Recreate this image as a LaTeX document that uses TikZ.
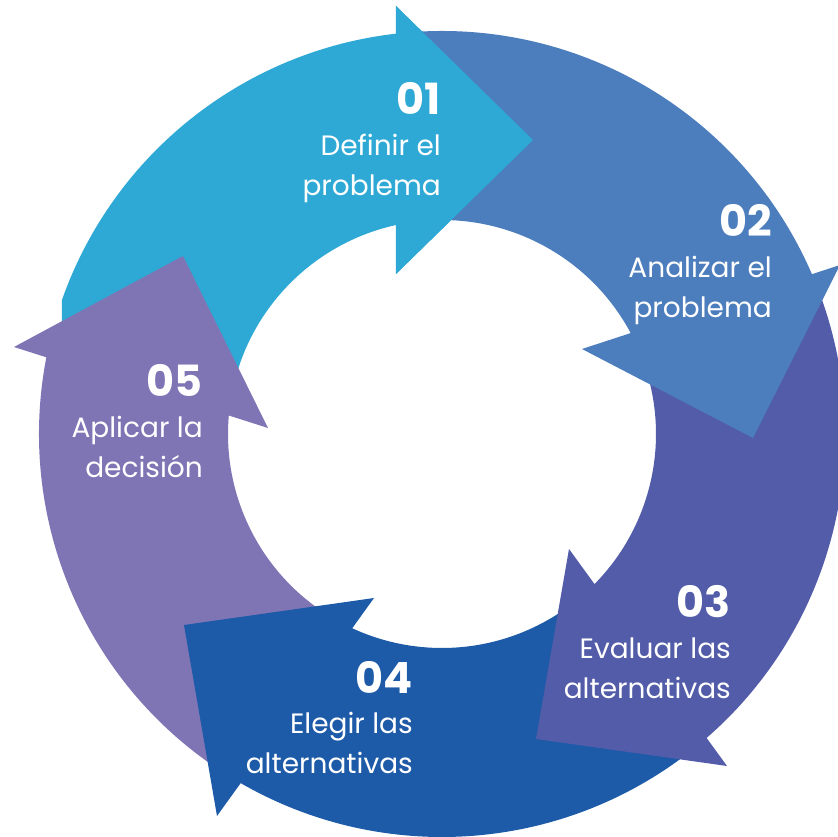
\documentclass[tikz,border=0pt]{standalone}
\usepackage{fontspec}
\setmainfont{Poppins}
\usetikzlibrary{positioning}
\definecolor{paso1}{HTML}{2EA9D5}
\definecolor{paso2}{HTML}{4C7DBD}
\definecolor{paso3}{HTML}{525CA8}
\definecolor{paso4}{HTML}{1D5AA8}
\definecolor{paso5}{HTML}{7F75B5}

\begin{document}
\begin{tikzpicture}[x=1pt,y=1pt,
		num/.style={text=white,inner sep=0pt,anchor=base east,font=\bfseries\fontsize{43}{43}\selectfont},
		txt/.style={text=white,inner sep=0pt,align=right,font=\fontsize{28}{40}\selectfont}]
	\useasboundingbox (-442,-403) rectangle (396,434);
	\clip (-442,-403) rectangle (396,434);

	\fill[paso1] (-380,100) -- (160.6:403) arc[start angle=160.6, end angle=96.55, radius=403]
		-- (-46,428) -- (91,294) -- (-46,160) -- (102.4:214) arc[start angle=102.4, end angle=165, radius=214] -- cycle;
	\fill[paso5] (236:403) arc[start angle=236, end angle=169.03, radius=403]
		-- (-428,87) -- (-259,178) -- (-174,6) -- (175.04:214) arc[start angle=175.04, end angle=236, radius=214] -- cycle;
	\fill[paso4] (-50:403) arc[start angle=-50, end angle=-119.97, radius=403]
		-- (-225,-382) -- (-258,-191) -- (-68,-164) -- (-114.8:214) arc[start angle=-114.8, end angle=-50, radius=214] -- cycle;
	\fill[paso3] (22:403) arc[start angle=22, end angle=-48.96, radius=403]
		-- (285,-332) -- (94,-305) -- (127,-115) -- (-44.54:214) arc[start angle=-44.54, end angle=22, radius=214] -- cycle;
	\fill[paso2] (95:403) arc[start angle=95, end angle=23.36, radius=403]
		-- (398,169) -- (311,-4) -- (140,85) -- (28.14:214) arc[start angle=28.14, end angle=95, radius=214] -- cycle;
	\fill[paso1] (-46,428) -- (91,294) -- (-46,160) -- cycle;

	\node[num] (n1) at (-1,319) {01};
	\node[txt, below left=19pt and 0pt of n1.south east] (t1) {Definir el\\problema};
	\node[num] (n2) at (330,197) {02};
	\node[txt, below left=19pt and 0pt of n2.south east] (t2) {Analizar el\\problema};
	\node[num] (n3) at (289,-184) {03};
	\node[txt, below left=19pt and 0pt of n3.south east] (t3) {Evaluar las\\alternativas};
	\node[num] (n4) at (-29,-259) {04};
	\node[txt, below left=19pt and 0pt of n4.south east] (t4) {Elegir las\\alternativas};
	\node[num] (n5) at (-239,37) {05};
	\node[txt, below left=19pt and 0pt of n5.south east] (t5) {Aplicar la\\decisión};
\end{tikzpicture}
\end{document}
